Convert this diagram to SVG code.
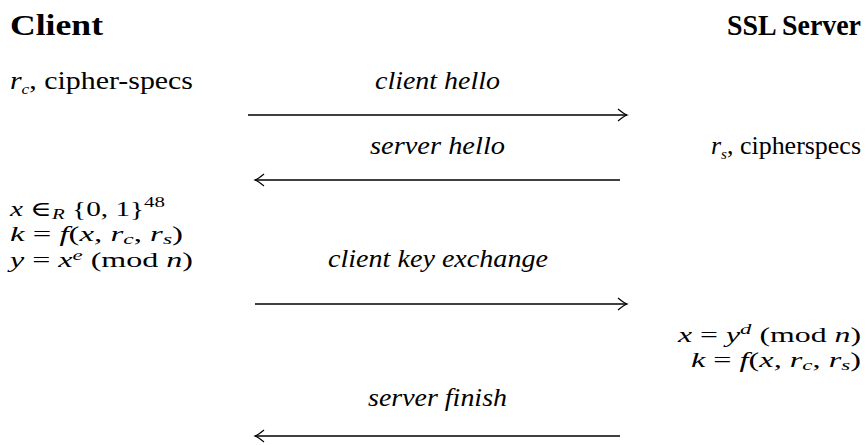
<svg xmlns="http://www.w3.org/2000/svg" width="865" height="445" viewBox="0 0 865 445">
<style>
text{font-family:"Liberation Serif","DejaVu Serif",serif;font-size:26px;fill:#000}
.h{font-weight:bold;font-size:29px}
.m{font-size:21px}
.i{font-style:italic}
.s{font-size:15px}
.c{text-anchor:middle}
.e{text-anchor:end}
.conn line{stroke:#000;stroke-width:1.3;fill:none}
</style>
<defs>
<marker id="ah" viewBox="-12 -7 14 14" refX="0" refY="0" markerWidth="14" markerHeight="14" markerUnits="userSpaceOnUse" orient="auto">
<path d="M-9,-6 Q-3,-1 0,0 Q-3,1 -9,6" fill="none" stroke="#000" stroke-width="1.2"/>
</marker>
</defs>
<g id="client-header"><text class="h" x="10" y="35" textLength="93" lengthAdjust="spacingAndGlyphs">Client</text></g>
<g id="server-header"><text class="h" x="727" y="35" textLength="134" lengthAdjust="spacingAndGlyphs">SSL Server</text></g>
<g id="client-state1"><text x="10" y="89" textLength="183" lengthAdjust="spacingAndGlyphs"><tspan class="i">r</tspan><tspan class="i s" dy="5">c</tspan><tspan dy="-5">, cipher-specs</tspan></text></g>
<g id="server-state1"><text x="711" y="154" textLength="150" lengthAdjust="spacingAndGlyphs"><tspan class="i">r</tspan><tspan class="i s" dy="5">s</tspan><tspan dy="-5">, cipherspecs</tspan></text></g>
<g id="client-compute">
<text class="m" x="10" y="216" textLength="155" lengthAdjust="spacingAndGlyphs"><tspan class="i">x</tspan> ∈<tspan class="i s" dy="3">R</tspan><tspan dy="-3"> {0, 1}</tspan><tspan class="s" dy="-9">48</tspan></text>
<text class="m" x="10" y="241" textLength="173" lengthAdjust="spacingAndGlyphs"><tspan class="i">k</tspan> = <tspan class="i">f</tspan>(<tspan class="i">x, r</tspan><tspan class="i s" dy="3">c</tspan><tspan dy="-3">, </tspan><tspan class="i">r</tspan><tspan class="i s" dy="3">s</tspan><tspan dy="-3">)</tspan></text>
<text class="m" x="10" y="267" textLength="183" lengthAdjust="spacingAndGlyphs"><tspan class="i">y</tspan> = <tspan class="i">x</tspan><tspan class="i s" dy="-7">e</tspan><tspan dy="7">  (mod </tspan><tspan class="i">n</tspan>)</text>
</g>
<g id="server-compute">
<text class="m" x="678" y="342" textLength="183" lengthAdjust="spacingAndGlyphs"><tspan class="i">x</tspan> = <tspan class="i">y</tspan><tspan class="i s" dy="-8">d</tspan><tspan dy="8">  (mod </tspan><tspan class="i">n</tspan>)</text>
<text class="m" x="691" y="367" textLength="170" lengthAdjust="spacingAndGlyphs"><tspan class="i">k</tspan> = <tspan class="i">f</tspan>(<tspan class="i">x, r</tspan><tspan class="i s" dy="3">c</tspan><tspan dy="-3">, </tspan><tspan class="i">r</tspan><tspan class="i s" dy="3">s</tspan><tspan dy="-3">)</tspan></text>
</g>
<g id="labels">
<text class="i" x="375" y="89" textLength="125" lengthAdjust="spacingAndGlyphs">client hello</text>
<text class="i" x="370" y="154" textLength="135" lengthAdjust="spacingAndGlyphs">server hello</text>
<text class="i" x="328" y="267" textLength="220" lengthAdjust="spacingAndGlyphs">client key exchange</text>
<text class="i" x="368" y="406" textLength="139" lengthAdjust="spacingAndGlyphs">server finish</text>
</g>
<g id="connectors" class="conn">
<line x1="248" y1="115" x2="627" y2="115" marker-end="url(#ah)"/>
<line x1="620" y1="180" x2="255" y2="180" marker-end="url(#ah)"/>
<line x1="255" y1="304" x2="627" y2="304" marker-end="url(#ah)"/>
<line x1="620" y1="436" x2="255" y2="436" marker-end="url(#ah)"/>
</g>
</svg>
